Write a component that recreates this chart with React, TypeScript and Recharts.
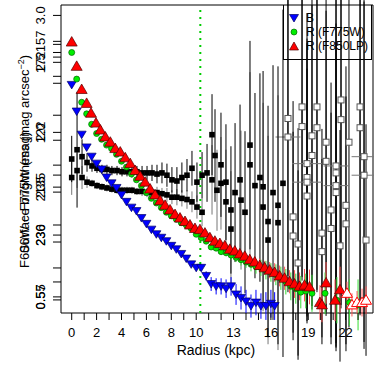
import React from "react";
import {
  ScatterChart,
  Scatter,
  XAxis,
  YAxis,
  ErrorBar,
  ReferenceLine,
  ReferenceArea,
} from "recharts";

const FONT = "'Liberation Sans', Arial, Helvetica, sans-serif";

// [radius (kpc), value, error]
const bProfile = [
  [0.0, 2.4, 0], [0.4, 2.17, 0], [0.8, 1.97, 0], [1.2, 1.86, 0], [1.6, 1.78, 0],
  [2.0, 1.72, 0], [2.4, 1.67, 0], [2.8, 1.6, 0], [3.2, 1.55, 0], [3.6, 1.51, 0],
  [4.0, 1.45, 0], [4.4, 1.39, 0], [4.8, 1.34, 0], [5.2, 1.31, 0], [5.6, 1.25, 0],
  [6.0, 1.2, 0], [6.4, 1.15, 0], [6.8, 1.11, 0], [7.2, 1.08, 0], [7.6, 1.05, 0],
  [8.0, 1.01, 0], [8.4, 0.98, 0], [8.8, 0.94, 0.01], [9.2, 0.9, 0.01], [9.6, 0.85, 0.02],
  [10.0, 0.82, 0.02], [10.4, 0.82, 0.03], [10.8, 0.75, 0.04], [11.2, 0.68, 0.06], [11.6, 0.66, 0.07],
  [12.0, 0.66, 0.07], [12.4, 0.64, 0.08], [12.8, 0.66, 0.08], [13.2, 0.59, 0.09], [13.6, 0.56, 0.1],
  [14.0, 0.53, 0.1], [14.4, 0.49, 0.1], [14.8, 0.52, 0.11], [15.2, 0.49, 0.11], [15.6, 0.49, 0.12],
  [16.0, 0.51, 0.12], [16.3, 0.49, 0.12],
];

const r775Profile = [
  [0.0, 2.68, 0], [0.4, 2.45, 0], [0.8, 2.25, 0], [1.2, 2.15, 0], [1.6, 2.06, 0],
  [2.0, 1.98, 0], [2.4, 1.93, 0], [2.8, 1.88, 0], [3.2, 1.85, 0], [3.6, 1.8, 0],
  [4.0, 1.74, 0], [4.4, 1.69, 0], [4.8, 1.63, 0], [5.2, 1.58, 0], [5.6, 1.53, 0],
  [6.0, 1.47, 0], [6.4, 1.42, 0], [6.8, 1.38, 0], [7.2, 1.34, 0], [7.6, 1.3, 0],
  [8.0, 1.27, 0], [8.4, 1.24, 0], [8.8, 1.21, 0], [9.2, 1.19, 0], [9.6, 1.16, 0.01],
  [10.0, 1.11, 0.01], [10.4, 1.08, 0.01], [10.8, 1.05, 0.02], [11.2, 1.0, 0.02], [11.6, 0.99, 0.02],
  [12.0, 0.96, 0.03], [12.4, 0.95, 0.03], [12.8, 0.93, 0.04], [13.2, 0.91, 0.04], [13.6, 0.89, 0.05],
  [14.0, 0.87, 0.05], [14.4, 0.85, 0.06], [14.8, 0.83, 0.06], [15.2, 0.82, 0.07], [15.6, 0.8, 0.08],
  [16.0, 0.78, 0.08], [16.4, 0.76, 0.09], [16.8, 0.73, 0.1], [17.2, 0.7, 0.11], [17.6, 0.66, 0.12],
  [18.0, 0.64, 0.13], [18.4, 0.61, 0.14], [18.8, 0.62, 0.15], [19.3, 0.6, 0.16], [20.35, 0.6, 0.18],
  [21.3, 0.54, 0.2], [22.3, 0.52, 0.2], [23.0, 0.5, 0.22],
];

const r850Profile = [
  [0.0, 2.77, 0], [0.4, 2.56, 0], [0.8, 2.36, 0], [1.2, 2.24, 0], [1.55, 2.155, 0],
  [1.95, 2.07, 0], [2.3, 2.01, 0], [2.7, 1.95, 0], [3.1, 1.905, 0], [3.5, 1.85, 0],
  [3.9, 1.82, 0], [4.3, 1.77, 0], [4.7, 1.72, 0], [5.1, 1.66, 0], [5.5, 1.61, 0],
  [5.9, 1.56, 0], [6.3, 1.5, 0], [6.7, 1.45, 0], [7.1, 1.4, 0], [7.5, 1.36, 0],
  [7.9, 1.32, 0], [8.3, 1.28, 0], [8.7, 1.25, 0], [9.1, 1.22, 0], [9.5, 1.19, 0],
  [9.9, 1.16, 0.01], [10.3, 1.15, 0.01], [10.7, 1.12, 0.01], [11.1, 1.08, 0.02], [11.5, 1.05, 0.02],
  [11.9, 1.03, 0.02], [12.3, 1.01, 0.03], [12.7, 0.98, 0.03], [13.1, 0.965, 0.03], [13.5, 0.94, 0.04],
  [13.9, 0.92, 0.04], [14.3, 0.89, 0.05], [14.7, 0.87, 0.05], [15.1, 0.84, 0.06], [15.5, 0.82, 0.06],
  [15.9, 0.8, 0.07], [16.3, 0.78, 0.08], [16.7, 0.75, 0.09], [17.1, 0.73, 0.1], [17.5, 0.7, 0.1],
  [17.9, 0.68, 0.12], [18.3, 0.66, 0.12], [18.7, 0.67, 0.14], [19.1, 0.655, 0.15], [19.94, 0.52, 0.15],
  [20.1, 0.5, 0.15], [20.43, 0.69, 0.18], [21.15, 0.54, 0.18], [21.55, 0.63, 0.2],
];

const r850Outer = [
  [22.11, 0.6, 0.1], [22.51, 0.5, 0.1], [22.92, 0.52, 0.1], [23.32, 0.52, 0.12], [23.64, 0.54, 0.12],
];

const colorUpper = [
  [0.0, 1.76, 0.2], [0.43, 1.84, 0.5], [0.83, 1.78, 0.15], [1.23, 1.73, 0.08], [1.63, 1.7, 0.05],
  [2.03, 1.68, 0.04], [2.43, 1.67, 0.04], [2.83, 1.67, 0.04], [3.23, 1.66, 0.04], [3.64, 1.66, 0.04],
  [4.04, 1.65, 0.04], [4.44, 1.65, 0.04], [4.84, 1.65, 0.05], [5.24, 1.65, 0.05], [5.65, 1.64, 0.06],
  [6.05, 1.64, 0.06], [6.45, 1.64, 0.07], [6.85, 1.63, 0.08], [7.25, 1.64, 0.09], [7.65, 1.62, 0.1],
  [8.05, 1.58, 0.11], [8.45, 1.57, 0.12], [8.85, 1.6, 0.13], [9.26, 1.62, 0.14], [9.66, 1.68, 0.15],
  [10.06, 1.56, 0.17], [10.47, 1.62, 0.2], [10.87, 1.64, 0.25], [11.27, 1.97, 0.35], [11.51, 1.79, 0.4],
  [11.99, 1.71, 0.45], [12.39, 1.56, 0.5], [12.79, 1.32, 0.55], [13.12, 1.47, 0.6], [13.52, 1.58, 0.65],
  [13.92, 1.3, 0.7], [14.32, 1.88, 0.9], [14.72, 1.53, 0.8], [15.12, 1.6, 0.9], [15.37, 1.52, 1.0],
  [15.77, 1.22, 1.0], [16.17, 1.47, 1.1], [16.57, 1.36, 1.2], [16.97, 1.55, 1.5],
];

const colorLower = [
  [0.0, 1.6, 0.15], [0.43, 1.66, 0.15], [0.83, 1.6, 0.1], [1.23, 1.56, 0.05], [1.63, 1.55, 0.03],
  [2.03, 1.53, 0.03], [2.43, 1.52, 0.03], [2.83, 1.51, 0.03], [3.23, 1.5, 0.03], [3.64, 1.49, 0.03],
  [4.04, 1.49, 0.03], [4.44, 1.49, 0.03], [4.84, 1.49, 0.03], [5.24, 1.48, 0.03], [5.65, 1.48, 0.04],
  [6.05, 1.47, 0.04], [6.45, 1.47, 0.04], [6.85, 1.47, 0.05], [7.25, 1.46, 0.05], [7.65, 1.45, 0.06],
  [8.05, 1.43, 0.06], [8.45, 1.43, 0.07], [8.85, 1.42, 0.07], [9.26, 1.41, 0.08], [9.66, 1.39, 0.09],
  [10.06, 1.345, 0.1], [10.47, 1.3, 0.12], [11.27, 1.58, 0.3], [11.67, 1.49, 0.35], [11.99, 1.55, 0.4],
  [12.39, 1.39, 0.45], [12.79, 1.155, 0.5], [13.6, 1.405, 0.6], [14.32, 1.71, 0.8], [15.37, 1.345, 0.9],
  [15.77, 1.06, 0.9], [16.57, 1.21, 1.1],
];

// [radius, value, error, radius error]
const colorOuter = [
  [17.37, 2.11, 1.5, 0], [17.37, 1.95, 1.2, 1.0], [17.78, 1.26, 1.0, 0], [17.78, 1.095, 0.9, 0],
  [18.18, 1.026, 1.0, 0], [18.18, 0.862, 0.8, 0], [18.5, 2.21, 1.5, 0], [18.5, 2.04, 1.3, 0],
  [18.9, 1.72, 1.3, 1.2], [18.9, 1.6, 1.2, 0], [18.9, 1.56, 1.2, 1.2], [18.9, 1.44, 1.1, 0],
  [19.3, 1.96, 1.5, 0], [19.3, 1.79, 1.3, 0], [19.7, 2.21, 1.6, 0], [19.7, 2.03, 1.4, 0],
  [20.1, 1.12, 0.9, 0], [20.1, 0.96, 0.8, 0], [20.43, 1.905, 1.5, 0], [20.43, 1.74, 1.3, 0],
  [20.83, 1.32, 1.1, 0], [20.83, 1.16, 1.0, 0], [21.23, 1.7, 1.6, 1.0], [21.23, 1.64, 1.5, 0],
  [21.23, 1.53, 1.4, 1.0], [21.23, 1.47, 1.3, 0], [21.55, 1.01, 1.0, 0], [21.63, 2.27, 1.8, 0],
  [21.63, 2.1, 1.6, 0], [22.03, 1.36, 1.2, 0], [22.03, 1.2, 1.1, 0], [22.27, 1.905, 1.6, 0],
  [23.16, 2.21, 1.8, 0], [23.16, 2.03, 1.6, 0], [23.48, 1.78, 1.6, 1.0], [23.48, 1.62, 1.5, 1.0],
  [23.64, 1.06, 1.0, 0],
];

const cutRadius = 10.33;

const xTicks = [0, 1, 2, 3, 4, 5, 6, 7, 8, 9, 10, 11, 12, 13, 14, 15, 16, 17, 18, 19, 20, 21, 22, 23];
const xLabels = [0, 2, 4, 6, 8, 10, 13, 16, 19, 22];
const yTicks = [
  3.0, 2.776, 2.75, 2.68, 2.64, 2.595, 2.474, 2.414, 2.138, 1.99, 1.922, 1.707, 1.621,
  1.517, 1.474, 1.19, 1.103, 1.043, 0.819, 0.698, 0.569, 0.543,
];
const yTickText: [number, string[]][] = [
  [3.0, ["3.0"]],
  [2.776, ["157"]],
  [2.595, ["2.5", "172"]],
  [1.99, ["2.0", "122"]],
  [1.517, ["235", "2135"]],
  [1.103, ["230", "236"]],
  [0.569, ["0.57", "0.55"]],
];

const toRows = (arr: number[][]) => arr.map(([r, v, e, xe]) => ({ r, v, e, xe: xe || 0 }));

const DownTri = (p: any) => (
  <path
    d={`M${p.cx - 4.5},${p.cy - 3.5}L${p.cx + 4.5},${p.cy - 3.5}L${p.cx},${p.cy + 4}Z`}
    fill="#0000ff"
    stroke="#000066"
    strokeWidth={0.7}
  />
);
const UpTri = (p: any) => (
  <path
    d={`M${p.cx - 5.5},${p.cy + 4}L${p.cx + 5.5},${p.cy + 4}L${p.cx},${p.cy - 5.5}Z`}
    fill="#ff0000"
    stroke="#550000"
    strokeWidth={0.7}
  />
);
const OpenTri = (p: any) => (
  <path
    d={`M${p.cx - 5.5},${p.cy + 4}L${p.cx + 5.5},${p.cy + 4}L${p.cx},${p.cy - 5.5}Z`}
    fill="#ffffff"
    stroke="#ff0000"
    strokeWidth={1}
  />
);
const Dot = (p: any) => (
  <circle cx={p.cx} cy={p.cy} r={3} fill="#00ee00" stroke="#006600" strokeWidth={0.7} />
);
const Square = (p: any) => <rect x={p.cx - 2.8} y={p.cy - 2.8} width={5.6} height={5.6} fill="#000" />;
const OpenSquare = (p: any) => (
  <rect x={p.cx - 3} y={p.cy - 3} width={6} height={6} fill="#fff" stroke="#555" strokeWidth={1} />
);

function YTick(props: any) {
  const { x, y, payload } = props;
  const found = yTickText.find((t) => t[0] === payload.value);
  if (!found) return <g />;
  return (
    <g>
      {found[1].map((s, i) => (
        <text
          key={i}
          x={0}
          y={0}
          transform={`translate(${x},${y}) rotate(-90)`}
          textAnchor="middle"
          fontSize={13}
          fontFamily={FONT}
          fill="#000"
        >
          {s}
        </text>
      ))}
    </g>
  );
}

function YTitle() {
  return (
    <g fontFamily={FONT} fontSize={13} fill="#000">
      <text x={0} y={0} transform="translate(29,268) rotate(-90)" textAnchor="start">
        F606W − F775W (mag)
      </text>
      <text x={0} y={0} transform="translate(29,55) rotate(-90)" textAnchor="end">
        Surface brightness (mag arcsec
        <tspan dy={-5} fontSize={9}>−2</tspan>
        <tspan dy={5}>)</tspan>
      </text>
    </g>
  );
}

function XTitle() {
  return (
    <text x={216} y={355} textAnchor="middle" fontFamily={FONT} fontSize={14} fill="#000">
      Radius (kpc)
    </text>
  );
}

const legendItems = [
  { label: "B", shape: "down", color: "#0000ff" },
  { label: "R (F775W)", shape: "dot", color: "#00ee00" },
  { label: "R (F850LP)", shape: "up", color: "#ff0000" },
];

function LegendBox() {
  return (
    <div
      style={{
        position: "absolute",
        left: 283,
        top: 5,
        width: 89,
        height: 55,
        border: "1px solid #000",
        borderTop: "none",
        fontFamily: FONT,
        fontSize: 12,
        color: "#000",
        boxSizing: "border-box",
      }}
    >
      {legendItems.map((it, i) => (
        <div
          key={it.label}
          style={{ position: "absolute", left: 4, top: 6 + i * 14, height: 14, display: "flex", alignItems: "center" }}
        >
          <svg width={12} height={12} style={{ marginRight: 6 }}>
            {it.shape === "down" && <path d="M1.5,2.5L10.5,2.5L6,10Z" fill={it.color} stroke="#000066" strokeWidth={0.7} />}
            {it.shape === "dot" && <circle cx={6} cy={6} r={3} fill={it.color} stroke="#006600" strokeWidth={0.7} />}
            {it.shape === "up" && <path d="M1.5,10L10.5,10L6,2Z" fill={it.color} stroke="#550000" strokeWidth={0.7} />}
          </svg>
          <span>{it.label}</span>
        </div>
      ))}
    </div>
  );
}

export default function App() {
  return (
    <div style={{ position: "absolute", left: 0, top: 0, width: 374, height: 374, background: "#fff" }}>
      <ScatterChart width={374} height={374} margin={{ top: 5, right: 1, bottom: 0, left: 0 }}>
        <XAxis
          type="number"
          dataKey="r"
          domain={[-0.86, 24.2]}
          allowDataOverflow
          ticks={xTicks}
          interval={0}
          tickSize={7}
          tickMargin={8}
          axisLine={false}
          tickLine={{ stroke: "#000" }}
          tick={{ fill: "#000", fontSize: 13, fontFamily: FONT }}
          tickFormatter={(v: number) => (xLabels.includes(v) ? String(v) : "")}
          height={61}
          label={<XTitle />}
        />
        <YAxis
          type="number"
          dataKey="v"
          domain={[0.43, 3.09]}
          allowDataOverflow
          ticks={yTicks}
          interval={0}
          tickSize={8}
          tickMargin={8}
          axisLine={false}
          tickLine={{ stroke: "#000" }}
          tick={<YTick />}
          width={61}
          label={<YTitle />}
        />
        <ReferenceArea
          x1={-0.86}
          x2={24.2}
          y1={0.43}
          y2={3.09}
          fill="none"
          stroke="#000"
          strokeWidth={1}
          ifOverflow="visible"
        />
        <Scatter data={toRows(colorOuter)} shape={OpenSquare} isAnimationActive={false}>
          <ErrorBar dataKey="e" direction="y" width={0} stroke="#000" strokeWidth={1} />
          <ErrorBar dataKey="xe" direction="x" width={0} stroke="#777" strokeWidth={1} />
        </Scatter>
        <Scatter data={toRows(colorLower)} shape={Square} isAnimationActive={false}>
          <ErrorBar dataKey="e" direction="y" width={0} stroke="#777" strokeWidth={1} />
        </Scatter>
        <Scatter data={toRows(colorUpper)} shape={Square} isAnimationActive={false}>
          <ErrorBar dataKey="e" direction="y" width={0} stroke="#000" strokeWidth={1} />
        </Scatter>
        <ReferenceLine x={cutRadius} stroke="#00cc00" strokeWidth={2} strokeDasharray="2 5" />
        <Scatter data={toRows(bProfile)} shape={DownTri} isAnimationActive={false}>
          <ErrorBar dataKey="e" direction="y" width={0} stroke="#0000ff" strokeWidth={1} />
        </Scatter>
        <Scatter data={toRows(r775Profile)} shape={Dot} isAnimationActive={false}>
          <ErrorBar dataKey="e" direction="y" width={0} stroke="#33dd33" strokeWidth={1} />
        </Scatter>
        <Scatter data={toRows(r850Profile)} shape={UpTri} isAnimationActive={false}>
          <ErrorBar dataKey="e" direction="y" width={0} stroke="#ff5555" strokeWidth={1} />
        </Scatter>
        <Scatter data={toRows(r850Outer)} shape={OpenTri} isAnimationActive={false}>
          <ErrorBar dataKey="e" direction="y" width={0} stroke="#ff5555" strokeWidth={1} />
        </Scatter>
      </ScatterChart>
      <LegendBox />
    </div>
  );
}
